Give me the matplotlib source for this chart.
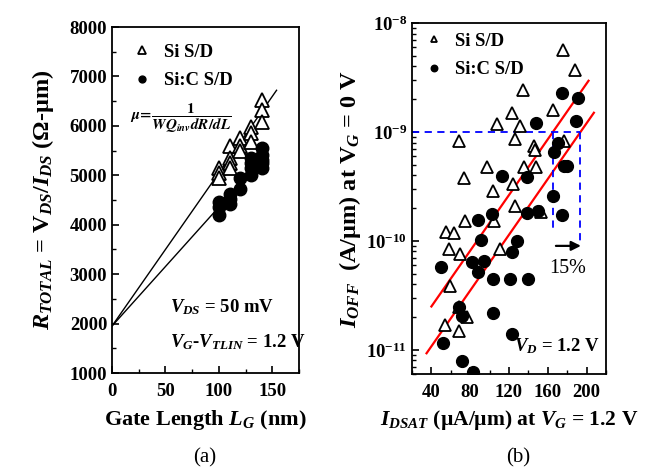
import matplotlib
matplotlib.use("Agg")
import matplotlib.pyplot as plt
from matplotlib.patches import FancyArrowPatch
from matplotlib.ticker import MultipleLocator, LogLocator, NullFormatter
import numpy as np

plt.rcParams['font.family'] = ['Liberation Serif', 'DejaVu Serif']
plt.rcParams['font.weight'] = 'bold'
plt.rcParams['axes.labelweight'] = 'bold'
plt.rcParams['mathtext.fontset'] = 'custom'
plt.rcParams['mathtext.rm'] = 'Liberation Serif:bold'
plt.rcParams['mathtext.it'] = 'Liberation Serif:italic:bold'
plt.rcParams['mathtext.bf'] = 'Liberation Serif:bold'
plt.rcParams['axes.linewidth'] = 1.3

# (a) total resistance vs gate length
lg_si = [100, 100, 100, 110, 110, 110, 110, 120, 120, 120, 130, 130, 130, 140, 140, 140]
r_si = [5150, 5050, 4950, 5600, 5350, 5250, 5150, 5750, 5600, 5500, 5980, 5850, 5680, 6520, 6320, 6080]
lg_sic = [100, 100, 100, 110, 110, 110, 120, 120, 130, 130, 130, 130, 140, 140, 140, 140, 140]
r_sic = [4460, 4360, 4200, 4620, 4520, 4420, 4950, 4720, 5350, 5250, 5150, 5010, 5550, 5410, 5310, 5250, 5150]
fit_lg_si = [0, 154]
fit_r_si = [1950, 6720]
fit_lg_sic = [0, 145]
fit_r_sic = [1950, 5440]

# (b) off-state vs drive current
idsat_si = [176, 188, 134, 123, 108, 131, 165, 68, 126, 146, 147, 177, 97, 74, 135, 148,
            124, 103, 126, 153, 75, 105, 55, 63, 58, 69, 111, 59, 68, 77, 54, 68]
ioff_si = [5.6e-9, 3.7e-9, 2.45e-9, 1.5e-9, 1.18e-9, 1.14e-9, 1.6e-9, 8.2e-10, 8.6e-10, 7.5e-10,
           6.8e-10, 8.3e-10, 4.8e-10, 3.8e-10, 4.75e-10, 4.75e-10, 3.3e-10, 2.9e-10, 2.1e-10,
           1.85e-10, 1.52e-10, 1.52e-10, 1.2e-10, 1.17e-10, 8.5e-11, 7.5e-11, 8.4e-11, 3.85e-11,
           2.45e-11, 2.0e-11, 1.7e-11, 1.5e-11]
idsat_sic = [174.5, 191, 189, 148, 170.5, 166, 177, 180, 113, 138.5, 165.5, 88, 102, 139, 150,
             175, 50, 91, 128, 123.5, 82, 94, 88.5, 104, 121, 140, 68, 71.5, 104, 123, 52, 71.5, 83]
ioff_sic = [2.27e-9, 2.04e-9, 1.25e-9, 1.2e-9, 8e-10, 6.5e-10, 4.9e-10, 4.9e-10, 3.9e-10, 3.85e-10,
            2.57e-10, 1.55e-10, 1.75e-10, 1.8e-10, 1.9e-10, 1.74e-10, 5.8e-11, 1.01e-10, 1.0e-10,
            7.9e-11, 6.4e-11, 6.6e-11, 5.2e-11, 4.5e-11, 4.5e-11, 4.5e-11, 2.45e-11, 2.06e-11,
            2.16e-11, 1.4e-11, 1.15e-11, 7.9e-12, 6.3e-12]
trend_x_si = [40, 202]
trend_y_si = [2.5e-11, 2.95e-9]
trend_x_sic = [35, 207.5]
trend_y_sic = [9.3e-12, 1.5e-9]
ioff_target = 1e-9
idsat_base = 165.5
idsat_gain = 193.6

fig = plt.figure(figsize=(6.54, 4.74), dpi=100)
ax1 = fig.add_axes([112 / 654, 1 - 373 / 474, 187 / 654, 346 / 474])
ax2 = fig.add_axes([412 / 654, 1 - 374 / 474, 194 / 654, 351 / 474])

# ---- panel (a)
ax1.plot(fit_lg_si, fit_r_si, color='black', lw=1.0)
ax1.plot(fit_lg_sic, fit_r_sic, color='black', lw=1.0)
ax1.plot(lg_si, r_si, ls='none', marker='^', ms=9.5, mfc='white', mec='black', mew=1.3,
         label='Si S/D')
ax1.plot(lg_sic, r_sic, ls='none', marker='o', ms=9, mfc='black', mec='black',
         label='Si:C S/D')
ax1.set_xlim(0, 175)
ax1.set_ylim(1000, 8000)
ax1.xaxis.set_major_locator(MultipleLocator(50))
ax1.xaxis.set_minor_locator(MultipleLocator(25))
ax1.yaxis.set_major_locator(MultipleLocator(1000))
ax1.yaxis.set_minor_locator(MultipleLocator(500))
ax1.tick_params(which='both', direction='in', top=False, right=False, labelsize=13.5)
ax1.tick_params(which='major', length=5, width=1.2)
ax1.tick_params(which='minor', length=3, width=1.0)
ax1.tick_params(axis='x', pad=7)
ax1.set_xlabel('Gate Length $L_G$ (nm)', fontsize=16, labelpad=6)
ax1.set_ylabel('$R_{TOTAL}$ = V$_{DS}$/$I_{DS}$ (\u03a9-\u00b5m)', fontsize=17.5, labelpad=10)
ax1.legend(loc='upper left', bbox_to_anchor=(0.02, 1.0), frameon=False, fontsize=13.5,
           handlelength=1.0, handletextpad=0.7, labelspacing=0.6, markerscale=0.55)
ax1.text(0.095, 0.735, r'$\mu\!=\!\dfrac{1}{WQ_{inv}dR/dL}$', transform=ax1.transAxes,
         fontsize=11, fontweight='normal', math_fontfamily='stix', ha='left', va='center')
ax1.text(0.31, 0.175, '$V_{DS}$ = 50 mV', transform=ax1.transAxes, fontsize=13.5)
ax1.text(0.31, 0.075, '$V_G$-$V_{TLIN}$ = 1.2 V', transform=ax1.transAxes, fontsize=13.5)
fig.text(205 / 654, 1 - 458 / 474, '(a)', fontsize=15, fontweight='normal',
         ha='center', va='center')

# ---- panel (b)
ax2.plot(trend_x_si, trend_y_si, color='red', lw=1.6)
ax2.plot(trend_x_sic, trend_y_sic, color='red', lw=1.6)
ax2.plot([20, idsat_gain], [ioff_target, ioff_target], color='blue', ls=(0, (4, 3)), lw=1.3)
ax2.plot([idsat_base, idsat_base], [ioff_target, 1.2e-10], color='blue', ls=(0, (4, 3)), lw=1.3)
ax2.plot([idsat_gain, idsat_gain], [ioff_target, 1.0e-10], color='blue', ls=(0, (4, 3)), lw=1.3)
ax2.plot(idsat_si, ioff_si, ls='none', marker='^', ms=8.5, mfc='white', mec='black', mew=1.3,
         label='Si S/D')
ax2.plot(idsat_sic, ioff_sic, ls='none', marker='o', ms=8.5, mfc='black', mec='black',
         label='Si:C S/D')
ax2.add_patch(FancyArrowPatch((idsat_base, 9e-11), (197, 9e-11), arrowstyle='-|>',
                              color='black', lw=1.6, mutation_scale=14))
ax2.text(180, 5.6e-11, '15%', fontsize=14.5, fontweight='normal', ha='center', va='center')
ax2.text(0.97, 0.065, '$V_D$ = 1.2 V', transform=ax2.transAxes, fontsize=13.5, ha='right')
ax2.set_yscale('log')
ax2.set_xlim(20, 220)
ax2.set_ylim(6e-12, 1e-8)
ax2.xaxis.set_major_locator(MultipleLocator(40))
ax2.xaxis.set_minor_locator(MultipleLocator(20))
ax2.yaxis.set_major_locator(LogLocator(base=10))
ax2.yaxis.set_minor_locator(LogLocator(base=10, subs=np.arange(2, 10)))
ax2.yaxis.set_minor_formatter(NullFormatter())
ax2.tick_params(which='both', direction='in', top=False, right=False, labelsize=13.5)
ax2.tick_params(which='major', length=5, width=1.2)
ax2.tick_params(which='minor', length=3, width=1.0)
ax2.tick_params(axis='x', pad=7)
ax2.set_xlabel('$I_{DSAT}$ (\u00b5A/\u00b5m) at $V_G$ = 1.2 V', fontsize=15.5, labelpad=5)
ax2.set_ylabel('$I_{OFF}$  (A/\u00b5m) at V$_G$ = 0 V', fontsize=17.5, labelpad=2)
ax2.legend(loc='upper left', bbox_to_anchor=(-0.02, 1.02), frameon=False, fontsize=13.5,
           handlelength=1.0, handletextpad=0.6, labelspacing=0.6, markerscale=0.55)
fig.text(518 / 654, 1 - 458 / 474, '(b)', fontsize=15, fontweight='normal',
         ha='center', va='center')

fig.savefig('out.png', dpi=100)
